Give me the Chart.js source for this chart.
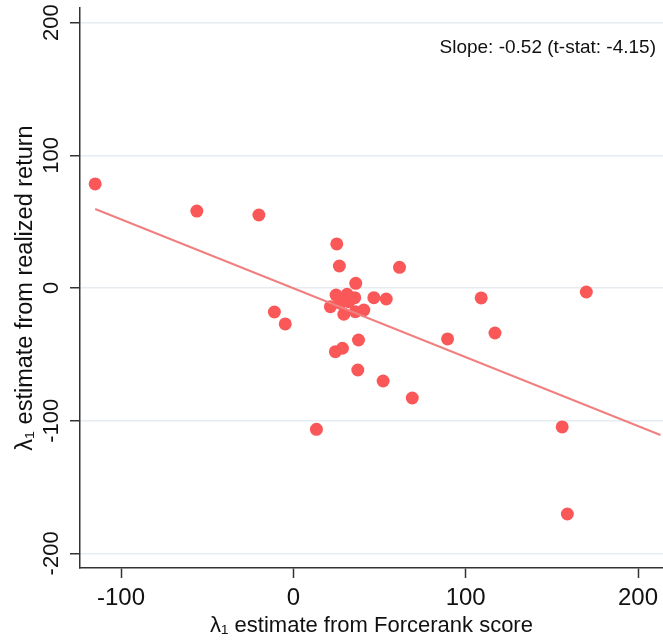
<!DOCTYPE html>
<html>
<head>
<meta charset="utf-8">
<script src="https://cdn.jsdelivr.net/npm/chart.js@4"></script>
<style>
html,body{margin:0;padding:0;background:#fff;}
#wrap{width:663px;height:640px;position:relative;}
</style>
</head>
<body>
<div id="wrap"><canvas id="c" width="663" height="640"></canvas></div>
<script>
// Data
const forcerankX = [-115, -56, -20, -11, -4.7, 25.2, 26.7, 61.6, 36.2, 24.8, 31.2, 35.6, 46.7, 53.9, 21.5, 27.3, 29.3, 36, 40.9, 32.2, 37.8, 24.4, 28.5, 37.4, 52.1, 13.4, 109, 89.5, 117, 69, 170, 156, 159];
const realizedY  = [78.4, 58, 55, -18.1, -27.1, 33.2, 16.6, 15.6, 3.5, -5.3, -4.7, -7.3, -7.3, -8.3, -14.1, -11.5, -19.8, -17.9, -16.6, -10.3, -39.2, -48, -45.4, -61.8, -70.1, -106.5, -7.5, -38.4, -33.9, -82.9, -3, -104.7, -170.3];
const fitX = [-115, 213];
const fitY = [59.5, -110.8];
const xTicks = [-100, 0, 100, 200];
const yTicks = [-200, -100, 0, 100, 200];
const xTitle = 'λ\u2081 estimate from Forcerank score';
const yTitle = 'λ\u2081 estimate from realized return';
const note = 'Slope: -0.52 (t-stat: -4.15)';

const FONT = 'Liberation Sans, Arial, Helvetica, sans-serif';
const pts = forcerankX.map((x, i) => ({x: x, y: realizedY[i]}));
const fit = fitX.map((x, i) => ({x: x, y: fitY[i]}));

const extrasPlugin = {
  id: 'extras',
  afterDraw(chart) {
    const ctx = chart.ctx;
    const ys = chart.scales.y;
    ctx.save();
    // rotated y tick labels, centred on their ticks
    ctx.font = '22px ' + FONT;
    ctx.fillStyle = '#111';
    ctx.textAlign = 'center';
    ctx.textBaseline = 'middle';
    yTicks.forEach(v => {
      const py = ys.getPixelForValue(v);
      ctx.save();
      ctx.translate(52, py);
      ctx.rotate(-Math.PI / 2);
      ctx.fillText(String(v), 0, 0);
      ctx.restore();
    });
    // annotation
    ctx.font = '19px ' + FONT;
    ctx.textAlign = 'right';
    ctx.fillText(note, chart.chartArea.right - 7, 48);
    ctx.restore();
  }
};

new Chart(document.getElementById('c'), {
  type: 'scatter',
  data: {
    datasets: [
      {
        type: 'line',
        data: fit,
        borderColor: 'rgb(240,128,128)',
        borderWidth: 2,
        pointRadius: 0,
        fill: false,
        tension: 0
      },
      {
        data: pts,
        backgroundColor: 'rgb(250,88,88)',
        borderColor: 'rgb(250,88,88)',
        borderWidth: 0,
        pointRadius: 6.5,
        pointHoverRadius: 6.5
      }
    ]
  },
  options: {
    responsive: false,
    animation: false,
    devicePixelRatio: 1,
    layout: {autoPadding: false, padding: {top: 8, right: 0, left: 0, bottom: 0}},
    plugins: {legend: {display: false}, tooltip: {enabled: false}},
    scales: {
      x: {
        type: 'linear',
        min: -123.8,
        max: 214.5,
        afterBuildTicks(s) { s.ticks = xTicks.map(v => ({value: v})); },
        afterFit(s) { s.height = 72; s.paddingLeft = 0; s.paddingRight = 0; },
        grid: {drawOnChartArea: false, color: 'rgba(0,0,0,0)', tickColor: '#333', tickLength: 10, tickWidth: 1.5},
        border: {color: '#333', width: 1.5},
        ticks: {color: '#111', font: {family: FONT, size: 24}, padding: 6},
        title: {display: true, text: xTitle, color: '#111', font: {family: FONT, size: 22}, padding: {top: 0, bottom: 1}}
      },
      y: {
        type: 'linear',
        min: -211,
        max: 211,
        afterBuildTicks(s) { s.ticks = yTicks.map(v => ({value: v})); },
        afterFit(s) { s.width = 80; s.paddingTop = 0; s.paddingBottom = 0; },
        grid: {color: '#e6ecef', lineWidth: 1.5, tickColor: '#333', tickLength: 10, tickWidth: 1.5},
        border: {color: '#333', width: 1.5},
        ticks: {display: false},
        title: {display: true, text: yTitle, color: '#111', font: {family: FONT, size: 23.5}, padding: {top: 11, bottom: 0}}
      }
    }
  },
  plugins: [extrasPlugin]
});
</script>
</body>
</html>
